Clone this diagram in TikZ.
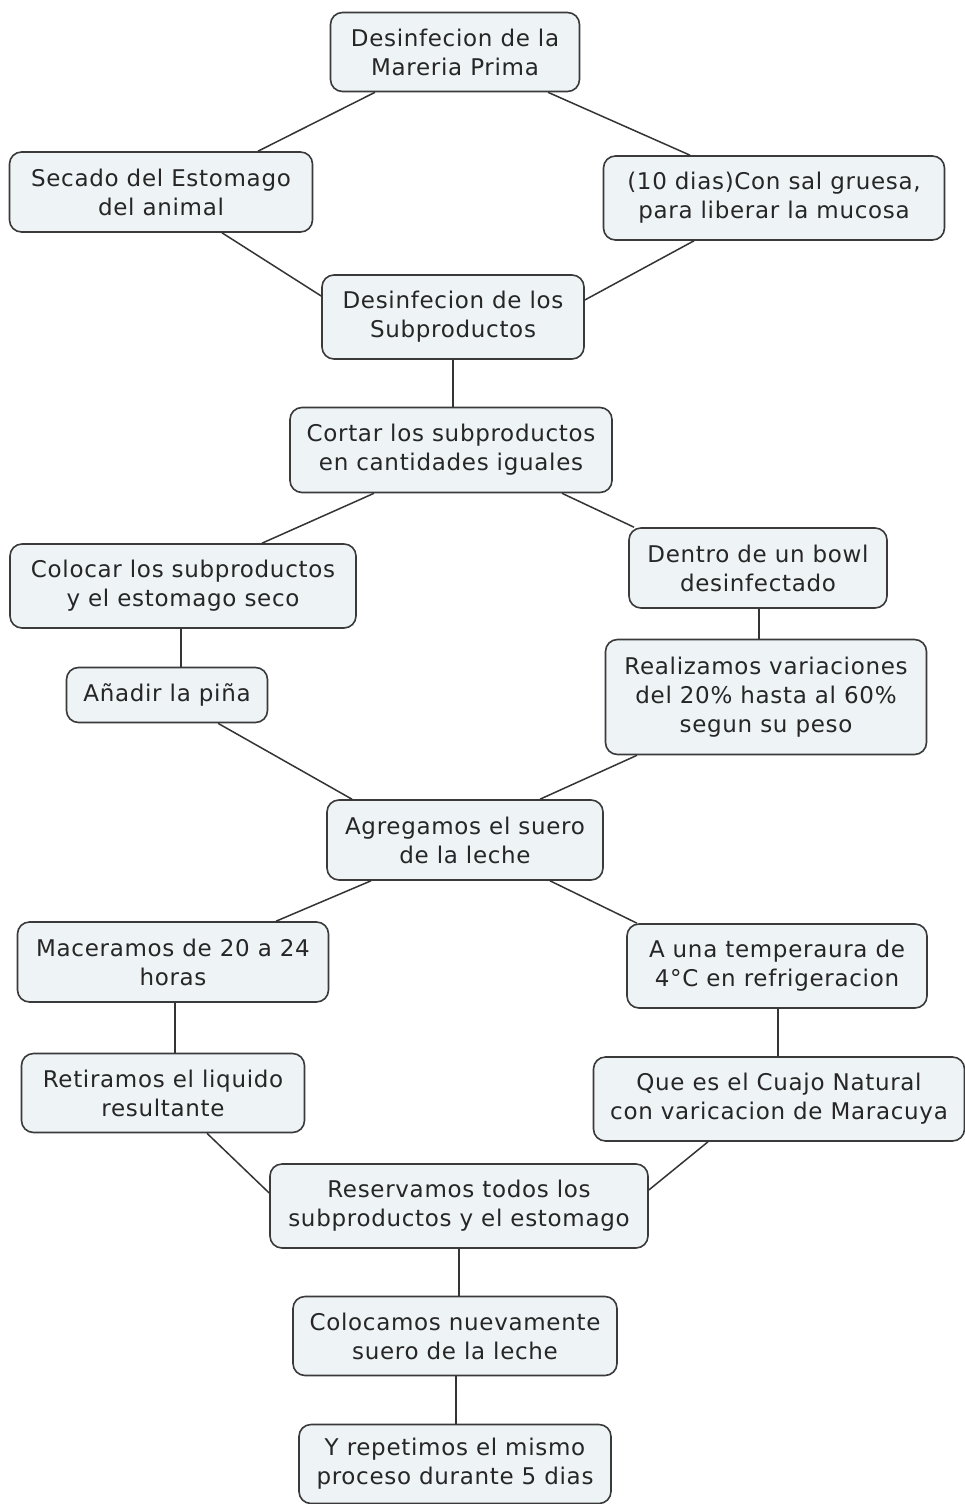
\documentclass[tikz,border=0pt]{standalone}
\usepackage{fontspec}
\setmainfont{DejaVu Sans}[LetterSpace=3]
\usetikzlibrary{calc}
\definecolor{boxfill}{HTML}{EEF3F6}
\definecolor{boxdraw}{HTML}{3A3A3A}
\begin{document}
\begin{tikzpicture}[x=1pt,y=-1pt,
  box/.style={draw=boxdraw, line width=1.6pt, fill=boxfill, rounded corners=12pt,
    align=center, inner sep=0pt, text=black!85,
    font=\fontsize{23}{29}\selectfont},
  link/.style={draw=boxdraw!90!black, line width=1.5pt}]
\useasboundingbox[fill=white] (0,0) rectangle (965,1504);
\node[box, minimum width=249, minimum height=79] (n1) at (455,52) {Desinfecion de la\\Mareria Prima};
\node[box, minimum width=303, minimum height=80] (n2) at (161,192) {Secado del Estomago\\del animal};
\node[box, minimum width=341, minimum height=84] (n3) at (774,198) {(10 dias)Con sal gruesa,\\para liberar la mucosa};
\node[box, minimum width=262, minimum height=84] (n4) at (453,317) {Desinfecion de los\\Subproductos};
\node[box, minimum width=322, minimum height=85] (n5) at (451,450) {Cortar los subproductos\\en cantidades iguales};
\node[box, minimum width=346, minimum height=84] (n6) at (183,586) {Colocar los subproductos\\y el estomago seco};
\node[box, minimum width=258, minimum height=80] (n7) at (758,568) {Dentro de un bowl\\desinfectado};
\node[box, minimum width=201, minimum height=55] (n8) at (167,695) {Añadir la piña};
\node[box, minimum width=321, minimum height=115] (n9) at (766,697) {Realizamos variaciones\\del 20\% hasta al 60\%\\segun su peso};
\node[box, minimum width=276, minimum height=80] (n10) at (465,840) {Agregamos el suero\\de la leche};
\node[box, minimum width=311, minimum height=80] (n11) at (173,962) {Maceramos de 20 a 24\\horas};
\node[box, minimum width=300, minimum height=84] (n12) at (777,966) {A una temperaura de\\4°C en refrigeracion};
\node[box, minimum width=283, minimum height=79] (n13) at (163,1093) {Retiramos el liquido\\resultante};
\node[box, minimum width=371, minimum height=84] (n14) at (779,1099) {Que es el Cuajo Natural\\con varicacion de Maracuya};
\node[box, minimum width=378, minimum height=84] (n15) at (459,1206) {Reservamos todos los\\subproductos y el estomago};
\node[box, minimum width=324, minimum height=79] (n16) at (455,1336) {Colocamos nuevamente\\suero de la leche};
\node[box, minimum width=312, minimum height=79] (n17) at (455,1464) {Y repetimos el mismo\\proceso durante 5 dias};
\draw[link] ($(n1.south)+(-80,0)$) -- ($(n2.north)+(97,0)$);
\draw[link] ($(n1.south)+(93,0)$) -- ($(n3.north)+(-84,0)$);
\draw[link] ($(n2.south)+(61,0)$) -- ($(n4.west)+(0,-21)$);
\draw[link] ($(n3.south)+(-80,0)$) -- ($(n4.east)+(0,-17)$);
\draw[link] (n4.south) -- ($(n5.north)+(2,0)$);
\draw[link] ($(n5.south)+(-77,0)$) -- ($(n6.north)+(79,0)$);
\draw[link] ($(n5.south)+(111,0)$) -- ($(n7.north)+(-124,0)$);
\draw[link] ($(n6.south)+(-2,0)$) -- ($(n8.north)+(14,0)$);
\draw[link] ($(n7.south)+(1,0)$) -- ($(n9.north)+(-7,0)$);
\draw[link] ($(n8.south)+(51,0)$) -- ($(n10.north)+(-113,0)$);
\draw[link] ($(n9.south)+(-129,0)$) -- ($(n10.north)+(75,0)$);
\draw[link] ($(n10.south)+(-94,0)$) -- ($(n11.north)+(103,0)$);
\draw[link] ($(n10.south)+(85,0)$) -- ($(n12.north)+(-140,0)$);
\draw[link] ($(n11.south)+(2,0)$) -- ($(n13.north)+(12,0)$);
\draw[link] ($(n12.south)+(1,0)$) -- ($(n14.north)+(-1,0)$);
\draw[link] ($(n13.south)+(44,0)$) -- ($(n15.west)+(0,-13)$);
\draw[link] ($(n14.south)+(-71,0)$) -- ($(n15.east)+(0,-16)$);
\draw[link] (n15.south) -- ($(n16.north)+(4,0)$);
\draw[link] ($(n16.south)+(1,0)$) -- ($(n17.north)+(1,0)$);
\end{tikzpicture}
\end{document}
